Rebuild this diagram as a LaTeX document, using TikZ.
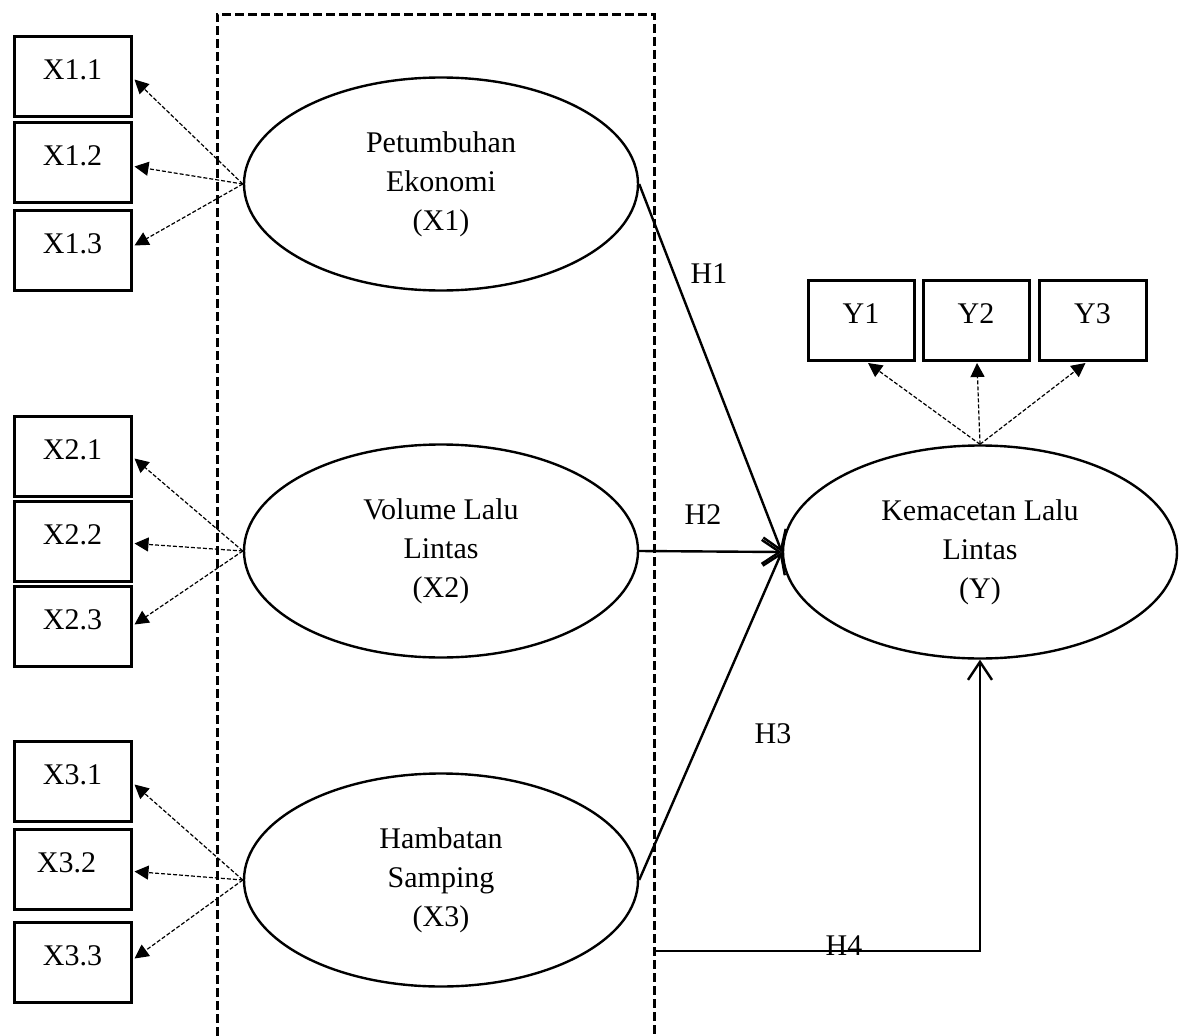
\documentclass[tikz,border=0pt]{standalone}
\usepackage{fontspec}
\setmainfont{Liberation Serif}
\usetikzlibrary{arrows.meta,calc,shapes.geometric}
\begin{document}
\begin{tikzpicture}[x=1pt,y=-1pt,
  every node/.style={font=\fontsize{30}{39}\selectfont},
  indbox/.style={draw, line width=3pt, inner sep=0pt, minimum width=117pt,
                 text height=43pt, text depth=37pt, anchor=north},
  ybox/.style={indbox, minimum width=106pt},
  latent/.style={draw, ellipse, line width=2.4pt, minimum width=394pt,
                 minimum height=213pt, inner sep=0pt, align=center},
  loading/.style={line width=1.2pt, dash pattern=on 4pt off 2pt,
                  -{Triangle[length=14pt,width=14pt]}},
  hyp/.style={line width=2.4pt, -{Straight Barb[length=18pt,width=24pt]}},
  frame/.style={line width=3pt, dash pattern=on 9pt off 4pt},
  hlabel/.style={anchor=base, inner sep=0pt}
]
\useasboundingbox (0,0) rectangle (1186,1036);

% dashed frame around the exogenous constructs (open at the bottom)
\draw[frame] (217,1036) |- (654,14) -- (654,1036);

% latent constructs
\node[latent] (E1) at (441,184) {Petumbuhan\\Ekonomi\\(X1)};
\node[latent] (E2) at (441,551) {Volume Lalu\\Lintas\\(X2)};
\node[latent] (E3) at (441,880) {Hambatan\\Samping\\(X3)};
\node[latent] (EY) at (980,552) {Kemacetan Lalu\\Lintas\\(Y)};

% indicators of X1
\node[indbox] (x11) at (72.5,35)  {X1.1};
\node[indbox] (x12) at (72.5,121) {X1.2};
\node[indbox] (x13) at (72.5,209) {X1.3};
% indicators of X2
\node[indbox] (x21) at (72.5,415) {X2.1};
\node[indbox] (x22) at (72.5,500) {X2.2};
\node[indbox] (x23) at (72.5,585) {X2.3};
% indicators of X3
\node[indbox] (x31) at (72.5,740) {X3.1};
\node[indbox] (x32) at (72.5,828) {X3.2\hspace*{12pt}};
\node[indbox] (x33) at (72.5,921) {X3.3};
% indicators of Y
\node[ybox] (y1) at (861,279)  {Y1};
\node[ybox] (y2) at (976,279)  {Y2};
\node[ybox, minimum width=107pt] (y3) at (1092.5,279) {Y3};

% loadings
\draw[loading] (E1.west) -- ($(x11.east)+(2,3)$);
\draw[loading] (E1.west) -- ($(x12.east)+(2,4)$);
\draw[loading] (E1.west) -- ($(x13.east)+(2,-5)$);
\draw[loading] (E2.west) -- ($(x21.east)+(2,2)$);
\draw[loading] (E2.west) -- ($(x22.east)+(2,2)$);
\draw[loading] (E2.west) -- ($(x23.east)+(2,-2)$);
\draw[loading] (E3.west) -- ($(x31.east)+(2,3)$);
\draw[loading] (E3.west) -- ($(x32.east)+(2,2)$);
\draw[loading] (E3.west) -- ($(x33.east)+(2,-4)$);
\draw[loading] (EY.north) -- ($(y1.south)+(7,1)$);
\draw[loading] (EY.north) -- ($(y2.south)+(1,1)$);
\draw[loading] (EY.north) -- ($(y3.south)+(-7,1)$);

% hypothesised paths
\coordinate (h4start) at (655,951);
\draw[hyp] (E1.east) -- (EY.west);
\draw[hyp] (E2.east) -- (EY.west);
\draw[hyp] (E3.east) -- (EY.west);
\draw[hyp] (h4start) -| (EY.south);

\node[hlabel] (lH1) at (709,283) {H1};
\node[hlabel] (lH2) at (703,524) {H2};
\node[hlabel] (lH3) at (773,743) {H3};
\node[hlabel] (lH4) at (844,955) {H4};
\end{tikzpicture}
\end{document}
